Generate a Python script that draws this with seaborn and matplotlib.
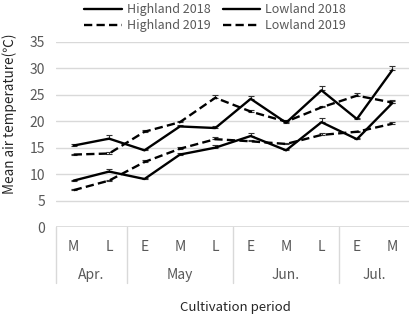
import numpy as np
import pandas as pd
import matplotlib
matplotlib.use("Agg")
import matplotlib.pyplot as plt
import matplotlib.lines as mlines
import matplotlib.transforms as mtransforms
import seaborn as sns

# data
sub_labels = ["M", "L", "E", "M", "L", "E", "M", "L", "E", "M"]
months = ["Apr.", "May", "Jun.", "Jul."]
month_spans = [(0, 1), (2, 4), (5, 7), (8, 9)]

highland_2018 = [15.4, 16.7, 14.5, 19.0, 18.7, 24.2, 19.7, 25.8, 20.4, 29.6]
lowland_2018 = [8.8, 10.5, 9.1, 13.7, 15.0, 17.2, 14.5, 19.8, 16.6, 23.4]
highland_2019 = [13.7, 13.9, 18.0, 19.8, 24.4, 21.8, 19.9, 22.6, 24.8, 23.5]
lowland_2019 = [7.0, 8.8, 12.3, 14.8, 16.6, 16.2, 15.7, 17.4, 18.0, 19.5]

err_h18 = [0.3, 0.6, 0.2, 0.2, 0.4, 0.6, 0.3, 0.8, 0.2, 0.8]
err_l18 = [0.2, 0.4, 0.2, 0.3, 0.5, 0.6, 0.2, 0.7, 0.2, 0.5]
err_h19 = [0.2, 0.2, 0.3, 0.3, 0.5, 0.3, 0.4, 0.3, 0.5, 0.3]
err_l19 = [0.2, 0.2, 0.3, 0.4, 0.4, 0.3, 0.2, 0.3, 0.2, 0.4]

series = [
    ("Highland 2018", highland_2018, err_h18, "-"),
    ("Highland 2019", highland_2019, err_h19, "--"),
    ("Lowland 2018", lowland_2018, err_l18, "-"),
    ("Lowland 2019", lowland_2019, err_l19, "--"),
]

sns.set_style("white")
plt.rcParams["font.family"] = ["Noto Sans CJK KR", "DejaVu Sans"]

fig = plt.figure(figsize=(4.10, 3.18), dpi=100)
ax = fig.add_axes([56 / 410, 1 - 227.3 / 318, 354 / 410, 185.8 / 318])

x = np.arange(len(sub_labels))
grey_txt = "#595959"
grid_col = "#d9d9d9"

handles = []
for name, vals, err, ls in series:
    df = pd.DataFrame({"period": x, "temp": vals})
    sns.lineplot(data=df, x="period", y="temp", color="black", linewidth=1.7,
                 linestyle=ls, dashes=False, ax=ax, zorder=3)
    if ls == "--":
        ax.lines[-1].set_dashes((3.5, 1.8))
    ax.errorbar(x, vals, yerr=[np.zeros(len(err)), err], fmt="none",
                ecolor="#333333", elinewidth=0.8, capsize=2, capthick=0.8, zorder=2)
    hl = mlines.Line2D([], [], color="black", linewidth=1.7, linestyle=ls, label=name)
    if ls == "--":
        hl.set_dashes((3.5, 1.8))
    handles.append(hl)

ax.set_xlim(-0.5, 9.5)
ax.set_ylim(0, 35)
ax.set_yticks(range(0, 36, 5))
ax.yaxis.grid(True, color=grid_col, linewidth=1)
ax.set_axisbelow(True)
for s in ax.spines.values():
    s.set_visible(False)
ax.axhline(0, color=grid_col, linewidth=1.2, zorder=1)
ax.tick_params(axis="y", length=0, pad=8, labelsize=10, labelcolor=grey_txt)
ax.set_xticks([])
ax.set_xlabel("")
ax.set_ylabel("")

# category axis: sub-periods, months and separators
trans = mtransforms.blended_transform_factory(ax.transData, ax.transAxes)
h = 185.8
for xi, lab in zip(x, sub_labels):
    ax.text(xi, -20 / h, lab, transform=trans, ha="center", va="center",
            fontsize=10, color=grey_txt)
for m, (a, b) in zip(months, month_spans):
    ax.text((a + b) / 2, -48 / h, m, transform=trans, ha="center", va="center",
            fontsize=10, color=grey_txt)
for xs in [-0.5, 1.5, 4.5, 7.5, 9.5]:
    ax.plot([xs, xs], [0, -56 / h], transform=trans, color=grid_col,
            linewidth=1, clip_on=False)

fig.text(235 / 410, 1 - 307 / 318, "Cultivation period", ha="center", va="center",
         fontsize=9.5, color="#262626")
fig.text(10 / 410, 1 - 114 / 318, "Mean air temperature(℃)", rotation=90,
         ha="center", va="center", fontsize=9.8, color="#262626")

leg = fig.legend(handles=handles, ncol=2, loc="upper center",
                 bbox_to_anchor=(0.525, 1.025), frameon=False, fontsize=9,
                 handlelength=3.0, columnspacing=1.0, labelspacing=0.25,
                 handletextpad=0.4)
for t in leg.get_texts():
    t.set_color(grey_txt)

fig.savefig("out.png", dpi=100)
